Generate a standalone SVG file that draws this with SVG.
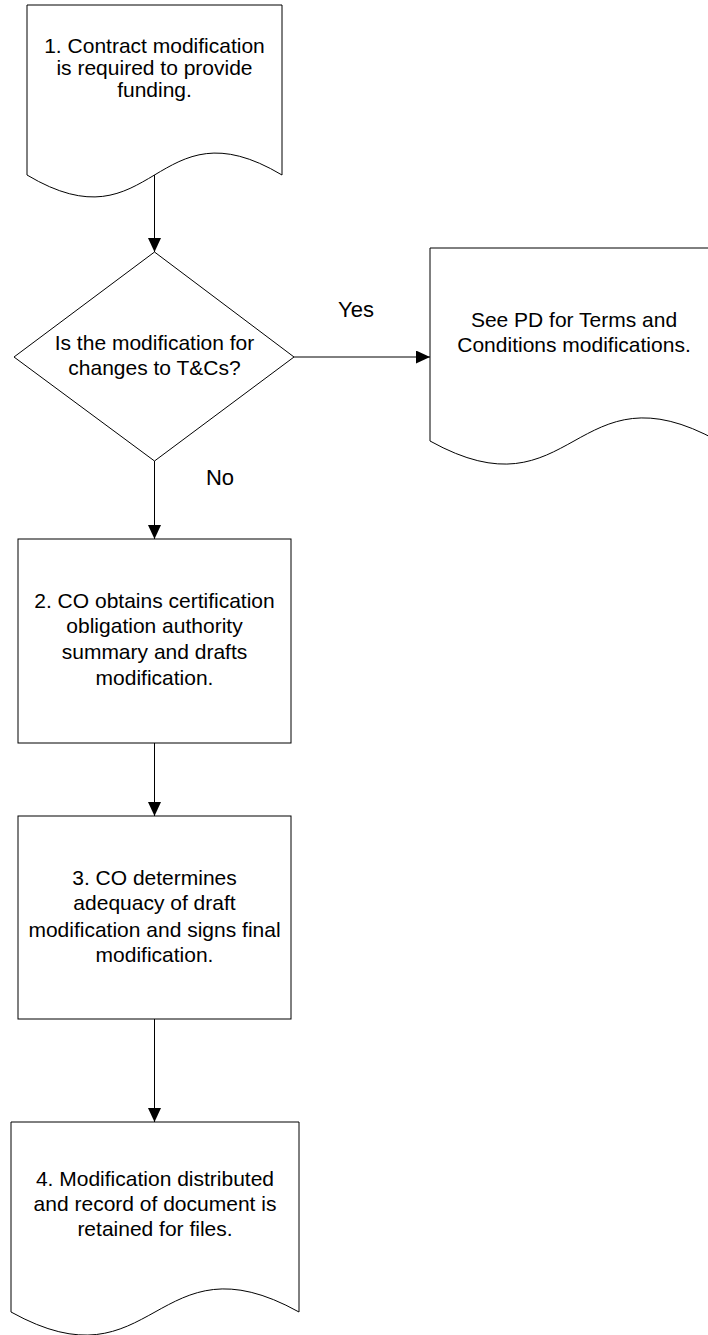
<svg xmlns="http://www.w3.org/2000/svg" width="708" height="1335" viewBox="0 0 708 1335">
<style>
.shape{fill:#fff;stroke:#000;stroke-width:1}
.conn{fill:none;stroke:#000;stroke-width:1}
text{font-family:"Liberation Sans",Arial,sans-serif;font-size:21px;fill:#000;text-anchor:middle}
.lbl{font-size:22px}
</style>
<defs>
<marker id="arr" markerUnits="userSpaceOnUse" markerWidth="14" markerHeight="13" refX="14" refY="6.5" orient="auto">
<path d="M0,0 L14,6.5 L0,13 Z" fill="#000"/>
</marker>
</defs>
<rect width="708" height="1335" fill="#fff"/>
<g id="connectors">
<line class="conn" x1="154.5" y1="174" x2="154.5" y2="252" marker-end="url(#arr)"/>
<line class="conn" x1="294" y1="357" x2="430" y2="357" marker-end="url(#arr)"/>
<line class="conn" x1="154.5" y1="461" x2="154.5" y2="539" marker-end="url(#arr)"/>
<line class="conn" x1="154.5" y1="743" x2="154.5" y2="816" marker-end="url(#arr)"/>
<line class="conn" x1="154.5" y1="1019" x2="154.5" y2="1122" marker-end="url(#arr)"/>
<text class="lbl" x="356" y="317">Yes</text>
<text class="lbl" x="220" y="485">No</text>
</g>
<g id="node1">
<path class="shape" d="M27,5 H282 V175 C154.5,99 154.5,251 27,175 Z"/>
<text x="154.5" y="53">1. Contract modification</text>
<text x="154.5" y="75">is required to provide</text>
<text x="154.5" y="97">funding.</text>
</g>
<g id="decision">
<path class="shape" d="M154.5,252 L294,357 L154.5,461 L14,357 Z"/>
<text x="154.5" y="350">Is the modification for</text>
<text x="154.5" y="375">changes to T&amp;Cs?</text>
</g>
<g id="nodePD">
<path class="shape" d="M430,248 H718 V441 C574,361 574,521 430,441 Z"/>
<text x="574" y="327">See PD for Terms and</text>
<text x="574" y="352">Conditions modifications.</text>
</g>
<g id="node2">
<rect class="shape" x="18" y="539" width="273" height="204"/>
<text x="154.5" y="608">2. CO obtains certification</text>
<text x="154.5" y="633">obligation authority</text>
<text x="154.5" y="659">summary and drafts</text>
<text x="154.5" y="685">modification.</text>
</g>
<g id="node3">
<rect class="shape" x="18" y="816" width="273" height="203"/>
<text x="154.5" y="885">3. CO determines</text>
<text x="154.5" y="910">adequacy of draft</text>
<text x="154.5" y="937">modification and signs final</text>
<text x="154.5" y="962">modification.</text>
</g>
<g id="node4">
<path class="shape" d="M11,1122 H299 V1312 C155,1232 155,1392 11,1312 Z"/>
<text x="155" y="1186">4. Modification distributed</text>
<text x="155" y="1211">and record of document is</text>
<text x="155" y="1236">retained for files.</text>
</g>
</svg>
